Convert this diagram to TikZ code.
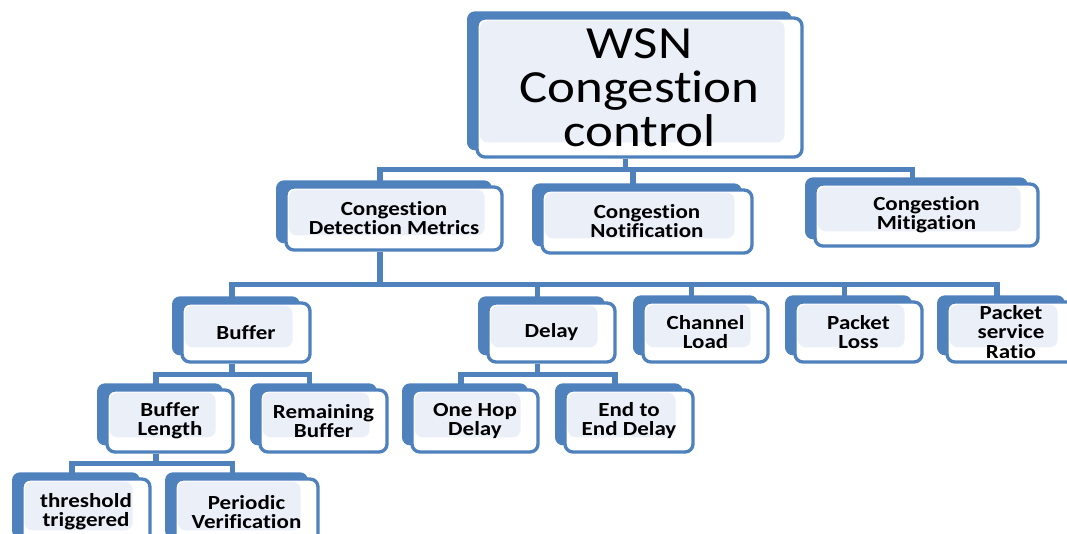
\documentclass[tikz,border=0pt]{standalone}
\usepackage{fontspec}
\setmainfont{Carlito}[FakeStretch=1.15, Ligatures=NoCommon]
\usetikzlibrary{positioning, shadows, backgrounds}
\definecolor{wsnblue}{HTML}{4F81BD}
\definecolor{wsnlight}{HTML}{EBF0F8}
\tikzset{
  card/.style 2 args={draw=wsnblue, line width=2.5pt, fill=white, rounded corners=6pt,
    minimum width=#1*0.75pt, minimum height=#2*0.75pt, align=center, inner sep=1pt,
    font=\bfseries\fontsize{15}{14.3}\selectfont,
    general shadow={fill=wsnblue, shadow xshift=-7.5pt, shadow yshift=5pt},
    path picture={\fill[wsnlight] ([shift={(2pt,-2pt)}]path picture bounding box.north west)
      rectangle ([shift={(-13pt,11pt)}]path picture bounding box.south east);}},
  conn/.style={draw=wsnblue, line width=4pt},
  stub/.style={xshift=-10.5pt},
}

\begin{document}
\begin{tikzpicture}[x=0.75pt, y=-0.75pt]
  \useasboundingbox (0,0) rectangle (1067,533);

  % top
  \node[card={325}{139}, font=\fontsize{34.5}{33}\selectfont] (main) at (639.5,87.5) {WSN\\Congestion\\control};

  % first level
  \node[card={216}{63}] (detect) at (394,218.5) {Congestion\\Detection Metrics};
  \node[card={210}{63}] (notify) at (647,221.5) {Congestion\\Notification};
  \node[card={223}{62}] (mitig) at (926.5,215) {Congestion\\Mitigation};

  % metrics
  \node[card={128}{59}] (buffer) at (246,332.5) {Buffer};
  \node[card={127}{59}] (delay) at (551.5,332.5) {Delay};
  \node[card={125}{60}] (chload) at (705.5,332) {Channel\\Load};
  \node[card={127}{60}] (ploss) at (858.5,332) {Packet\\Loss};
  \node[card={128}{60}] (psr) at (1011,332) {Packet\\service\\Ratio};

  % buffer and delay kinds
  \node[card={126}{62}] (buflen) at (170,421) {Buffer\\Length};
  \node[card={127}{62}] (rembuf) at (323.5,421) {Remaining\\Buffer};
  \node[card={126}{62}] (onehop) at (475,421) {One Hop\\Delay};
  \node[card={128}{62}] (endend) at (629,421) {End to\\End Delay};

  % buffer length checks
  \node[card={128}{66}] (thresh) at (86,512) {threshold\\triggered};
  \node[card={143}{66}] (period) at (246.5,512) {Periodic\\Verification};

  \begin{scope}[on background layer]
    \foreach \kid in {detect, notify, mitig}
      \draw[conn] ([stub]main.south) -- ++(0,11) -| ([stub]\kid.north);
    \foreach \kid in {buffer, delay, chload, ploss, psr}
      \draw[conn] ([stub]detect.south) -- ++(0,33) -| ([stub]\kid.north);
    \foreach \kid in {buflen, rembuf}
      \draw[conn] ([stub]buffer.south) -- ++(0,11) -| ([stub]\kid.north);
    \foreach \kid in {onehop, endend}
      \draw[conn] ([stub]delay.south) -- ++(0,11) -| ([stub]\kid.north);
    \foreach \kid in {thresh, period}
      \draw[conn] ([stub]buflen.south) -- ++(0,10) -| ([stub]\kid.north);
  \end{scope}
\end{tikzpicture}
\end{document}
